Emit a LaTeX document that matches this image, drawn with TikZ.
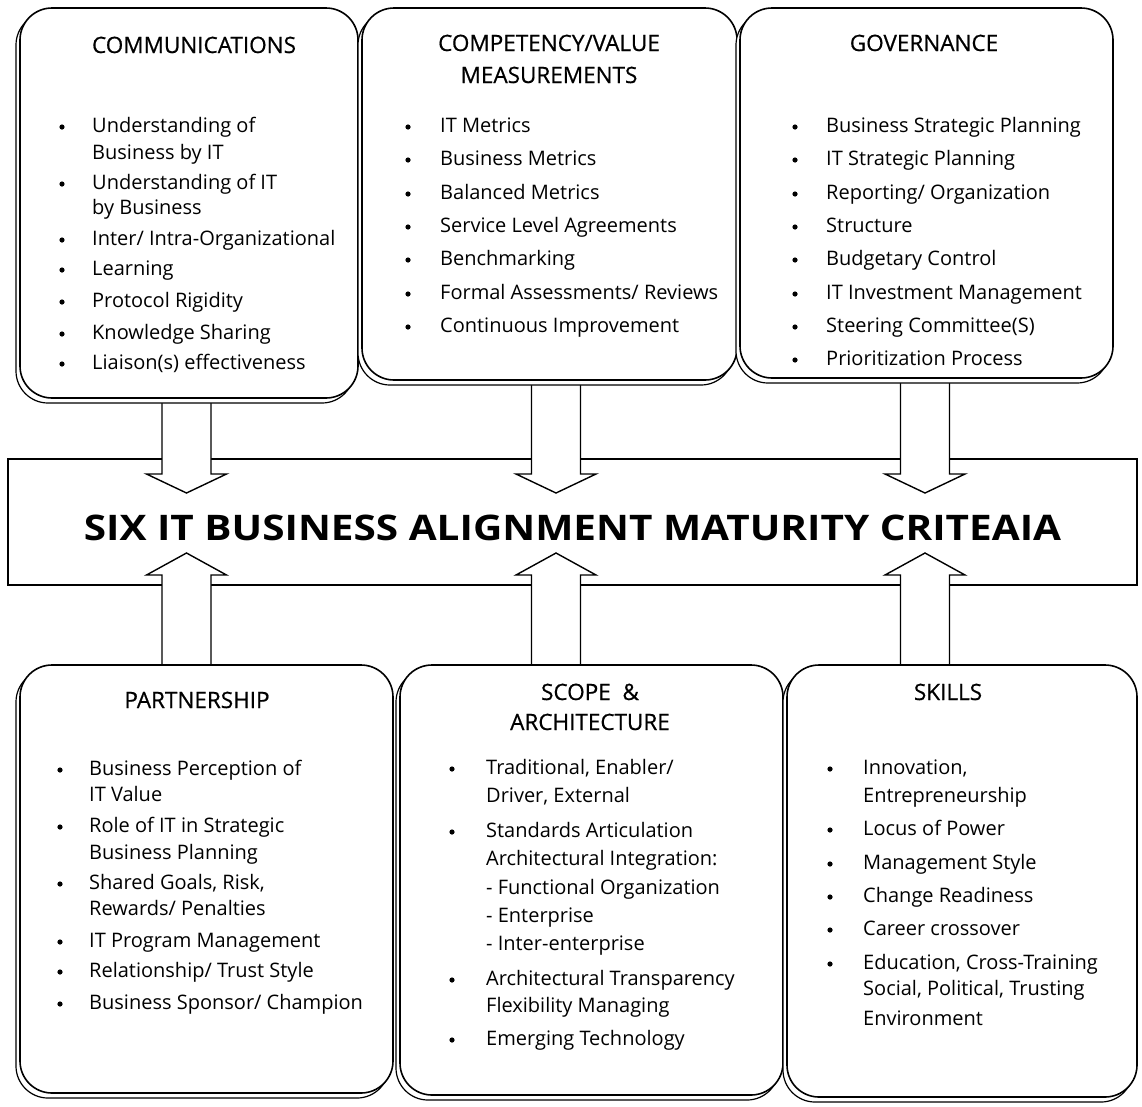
\documentclass[tikz,border=0pt]{standalone}
\usepackage{graphicx}
\usepackage{fontspec}
\setmainfont{Open Sans}
\newfontfamily\hdrfont{Open Sans}[FakeBold=0.6]
\usetikzlibrary{shadows}

\tikzset{
  critbox/.style={draw,line width=1.6pt,rounded corners=32pt,fill=white,inner sep=0pt,
    general shadow={draw,fill=white,line width=1.2pt,shadow xshift=-4pt,shadow yshift=-5pt}},
  hdr/.style={anchor=base,inner sep=0pt,font=\hdrfont\fontsize{22.5}{26}\selectfont},
  itm/.style={anchor=base west,inner sep=0pt,font=\fontsize{20}{24}\selectfont},
  arrowbox/.style={draw,line width=1.4pt,fill=white,line join=miter}
}

\begin{document}
\begin{tikzpicture}[x=1pt,y=-1pt]
\useasboundingbox (0,0) rectangle (1142,1106);

% centre bar
\node[draw,line width=1.6pt,minimum width=1129pt,minimum height=126pt,inner sep=0pt] (align) at (572.5,522) {};

% block arrows
\foreach \ax in {186.5,556,925} {
  \draw[arrowbox] (\ax-24.5,370) -- (\ax-24.5,474) -- (\ax-40,474) -- (\ax,493) -- (\ax+40,474) -- (\ax+24.5,474) -- (\ax+24.5,370);
  \draw[arrowbox] (\ax-24.5,680) -- (\ax-24.5,575) -- (\ax-40,575) -- (\ax,553) -- (\ax+40,575) -- (\ax+24.5,575) -- (\ax+24.5,680);
}
\node[anchor=base,inner sep=0pt] (title) at (572.5,540) {\scalebox{1}[0.87]{\fontsize{40.5}{46}\selectfont\bfseries SIX IT BUSINESS ALIGNMENT MATURITY CRITEAIA}};

% boxes
\node[critbox,minimum width=338pt,minimum height=390pt] (comm) at (189,203) {};
\node[critbox,minimum width=375pt,minimum height=372pt] (comp) at (549.5,194) {};
\node[critbox,minimum width=373pt,minimum height=370pt] (gov) at (926.5,193) {};
\node[critbox,minimum width=373pt,minimum height=428pt] (part) at (206.5,879) {};
\node[critbox,minimum width=383pt,minimum height=430pt] (scope) at (591.5,880) {};
\node[critbox,minimum width=350pt,minimum height=432pt] (skills) at (962,881) {};

% headings
\node[hdr] (commH) at (194,53) {COMMUNICATIONS};
\node[hdr] (compH) at (549,51) {COMPETENCY/VALUE};
\node[hdr] (compH2) at (549,83) {MEASUREMENTS};
\node[hdr] (govH) at (924,51) {GOVERNANCE};
\node[hdr] (partH) at (197,708) {PARTNERSHIP};
\node[hdr] (scopeH) at (590,700) {SCOPE \ \&};
\node[hdr] (scopeH2) at (590,730) {ARCHITECTURE};
\node[hdr] (skillsH) at (948,700) {SKILLS};

% items
\foreach \y/\t [count=\n] in {125/{Understanding of},152/{Business by IT},182/{Understanding of IT},207/{by Business},238/{Inter/ Intra-Organizational},268/{Learning},300/{Protocol Rigidity},332/{Knowledge Sharing},362/{Liaison(s) effectiveness}}
  \node[itm] (comm\n) at (92,\y+7) {\t};
\foreach \y in {125,182,238,268,300,332,362}
  \fill (62,\y+2) circle (2.6pt);

\foreach \y/\t [count=\n] in {125/{IT Metrics},158/{Business Metrics},192/{Balanced Metrics},225/{Service Level Agreements},258/{Benchmarking},292/{Formal Assessments/ Reviews},325/{Continuous Improvement}} {
  \node[itm] (comp\n) at (440,\y+7) {\t};
  \fill (408,\y+2) circle (2.6pt);
}

\foreach \y/\t [count=\n] in {125/{Business Strategic Planning},158/{IT Strategic Planning},192/{Reporting/ Organization},225/{Structure},258/{Budgetary Control},292/{IT Investment Management},325/{Steering Committee(S)},358/{Prioritization Process}} {
  \node[itm] (gov\n) at (826,\y+7) {\t};
  \fill (795,\y+2) circle (2.6pt);
}

\foreach \y/\t [count=\n] in {768/{Business Perception of},794/{IT Value},825/{Role of IT in Strategic},852/{Business Planning},882/{Shared Goals, Risk,},908/{Rewards/ Penalties},940/{IT Program Management},970/{Relationship/ Trust Style},1002/{Business Sponsor/ Champion}}
  \node[itm] (part\n) at (89,\y+7) {\t};
\foreach \y in {768,825,882,940,970,1002}
  \fill (60,\y+2) circle (2.6pt);

\foreach \y/\t [count=\n] in {767/{Traditional, Enabler/},795/{Driver, External},830/{Standards Articulation},858/{Architectural Integration:},887/{- Functional Organization},915/{- Enterprise},943/{- Inter-enterprise},978/{Architectural Transparency},1005/{Flexibility Managing},1038/{Emerging Technology}}
  \node[itm] (scope\n) at (486,\y+7) {\t};
\foreach \y in {767,830,978,1038}
  \fill (452,\y+2) circle (2.6pt);

\foreach \y/\t [count=\n] in {767/{Innovation,},795/{Entrepreneurship},828/{Locus of Power},862/{Management Style},895/{Change Readiness},928/{Career crossover},962/{Education, Cross-Training},988/{Social, Political, Trusting},1018/{Environment}}
  \node[itm] (skills\n) at (863,\y+7) {\t};
\foreach \y in {767,828,862,895,928,962}
  \fill (830,\y+2) circle (2.6pt);
\end{tikzpicture}
\end{document}
